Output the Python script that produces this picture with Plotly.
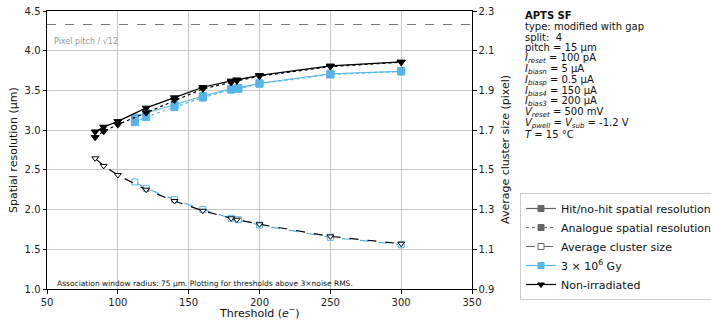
import plotly.graph_objects as go

# ---- data ----
thr_nonirr = [84, 90, 100, 120, 140, 160, 180, 184, 200, 250, 300]
res_hit_nonirr = [2.98, 3.04, 3.11, 3.28, 3.41, 3.54, 3.62, 3.635, 3.69, 3.81, 3.86]
res_ana_nonirr = [2.91, 2.985, 3.07, 3.22, 3.38, 3.52, 3.60, 3.62, 3.68, 3.80, 3.855]
clu_nonirr = [1.558, 1.52, 1.474, 1.40, 1.343, 1.294, 1.256, 1.249, 1.226, 1.165, 1.128]

thr_irr = [112, 120, 140, 160, 180, 185, 200, 250, 300]
res_hit_irr = [3.157, 3.216, 3.32, 3.43, 3.52, 3.53, 3.59, 3.71, 3.74]
res_ana_irr = [3.10, 3.165, 3.29, 3.41, 3.51, 3.52, 3.585, 3.70, 3.74]
clu_irr = [1.439, 1.407, 1.35, 1.30, 1.256, 1.249, 1.222, 1.16, 1.123]

pixel_pitch = 15.0
pitch_line = pixel_pitch / 12 ** 0.5

info_lines = [
    "<b>APTS SF</b>",
    "type: modified with gap",
    "split:  4",
    "pitch = 15 µm",
    "<i>I</i><sub><i>reset</i></sub> = 100 pA",
    "<i>I</i><sub><i>biasn</i></sub> = 5 µA",
    "<i>I</i><sub><i>biasp</i></sub> = 0.5 µA",
    "<i>I</i><sub><i>bias4</i></sub> = 150 µA",
    "<i>I</i><sub><i>bias3</i></sub> = 200 µA",
    "<i>V</i><sub><i>reset</i></sub> = 500 mV",
    "<i>V</i><sub><i>pwell</i></sub> = <i>V</i><sub><i>sub</i></sub> = -1.2 V",
    "<i>T</i> = 15 °C",
]

BLUE = "#56B4E9"
BLACK = "black"
GRAY = "#666666"
FONT = "DejaVu Sans"

# plot-area geometry in pixels (for placing outside texts)
L, R, T, B = 47, 472, 11, 289
W, H = R - L, B - T


def px(xp):
    return (xp - L) / W


def py(yp):
    return 1 - (yp - T) / H


fig = go.Figure()

# pitch line
fig.add_trace(go.Scatter(x=[50, 350], y=[pitch_line, pitch_line], mode="lines",
                         line=dict(color="#777777", width=1, dash="dash"),
                         showlegend=False, hoverinfo="skip"))


def add_series(x, y, color, symbol, dash, filled, yaxis="y", size=7):
    fig.add_trace(go.Scatter(
        x=x, y=y, mode="lines+markers", yaxis=yaxis,
        line=dict(color=color, width=1.2, dash=dash),
        marker=dict(symbol=symbol, size=size,
                    color=color if filled else "white",
                    line=dict(color=color, width=1)),
        showlegend=False))


# irradiated
add_series(thr_irr, res_ana_irr, BLUE, "square", "dot", True)
add_series(thr_irr, res_hit_irr, BLUE, "square", "solid", True)
add_series(thr_irr, clu_irr, BLUE, "square", "dash", False, "y2", 6)
# non-irradiated
add_series(thr_nonirr, res_ana_nonirr, BLACK, "triangle-down", "dot", True)
add_series(thr_nonirr, res_hit_nonirr, BLACK, "triangle-down", "solid", True)
add_series(thr_nonirr, clu_nonirr, BLACK, "triangle-down", "dash", False, "y2", 6)

# legend entries
leg = [
    ("Hit/no-hit spatial resolution", GRAY, "square", "solid", True),
    ("Analogue spatial resolution", GRAY, "square", "dot", True),
    ("Average cluster size", GRAY, "square", "dash", False),
    ("3 × 10<sup>6</sup> Gy", BLUE, "square", "solid", True),
    ("Non-irradiated", BLACK, "triangle-down", "solid", True),
]
for name, c, sym, dash, filled in leg:
    fig.add_trace(go.Scatter(
        x=[None], y=[None], mode="lines+markers", name=name,
        line=dict(color=c, width=1.2, dash=dash),
        marker=dict(symbol=sym, size=6, color=c if filled else "white",
                    line=dict(color=c, width=1))))

annotations = []
y0, dy = 15.5, 10.8
for i, t in enumerate(info_lines):
    ypix = y0 + i * dy
    annotations.append(dict(
        x=px(523), y=py(ypix), xref="paper", yref="paper",
        xanchor="left", yanchor="middle", text=t, showarrow=False,
        font=dict(family=FONT, size=10, color="#111111")))

annotations.append(dict(x=px(52), y=py(42), xref="paper", yref="paper",
                        xanchor="left", yanchor="middle",
                        text="Pixel pitch / √12",
                        showarrow=False, font=dict(family=FONT, size=8, color="#999999")))
annotations.append(dict(x=px(55), y=py(283.5), xref="paper", yref="paper",
                        xanchor="left", yanchor="middle",
                        text="Association window radius: 75 µm. Plotting for thresholds above 3×noise RMS.",
                        showarrow=False, font=dict(family=FONT, size=7.5, color="#111111")))
# axis titles
annotations.append(dict(x=px(259.5), y=py(312), xref="paper", yref="paper",
                        xanchor="center", yanchor="middle",
                        text="Threshold (<i>e</i><sup>−</sup>)",
                        showarrow=False, font=dict(family=FONT, size=11, color="#111111")))
annotations.append(dict(x=px(13), y=py(150), xref="paper", yref="paper",
                        xanchor="center", yanchor="middle", textangle=-90,
                        text="Spatial resolution (µm)",
                        showarrow=False, font=dict(family=FONT, size=11, color="#111111")))
annotations.append(dict(x=px(505), y=py(150), xref="paper", yref="paper",
                        xanchor="center", yanchor="middle", textangle=-90,
                        text="Average cluster size (pixel)",
                        showarrow=False, font=dict(family=FONT, size=11, color="#111111")))

axis_common = dict(showline=True, linecolor="black", linewidth=1,
                   ticks="outside", ticklen=3.5, tickcolor="black",
                   tickfont=dict(family=FONT, size=10, color="#222222"),
                   zeroline=False)

fig.update_layout(
    width=711, height=322,
    margin=dict(l=L, r=711 - R, t=T, b=322 - B, autoexpand=False),
    paper_bgcolor="white", plot_bgcolor="white",
    font=dict(family=FONT, size=10, color="black"),
    xaxis=dict(range=[50, 350], tickvals=[50, 100, 150, 200, 250, 300, 350],
               showgrid=True, gridcolor="#c8c8c8", gridwidth=1,
               mirror=True, **axis_common),
    yaxis=dict(range=[1.0, 4.5], tickvals=[1.0, 1.5, 2.0, 2.5, 3.0, 3.5, 4.0, 4.5],
               tickformat=".1f", showgrid=True, gridcolor="#c8c8c8", gridwidth=1,
               **axis_common),
    yaxis2=dict(range=[0.9, 2.3], tickvals=[0.9, 1.1, 1.3, 1.5, 1.7, 1.9, 2.1, 2.3],
                tickformat=".1f", overlaying="y", side="right", showgrid=False,
                **axis_common),
    legend=dict(x=px(520), y=py(193), xanchor="left", yanchor="top",
                bordercolor="#cccccc", borderwidth=1, bgcolor="white",
                font=dict(family=FONT, size=11, color="#111111"),
                tracegroupgap=0, itemsizing="trace"),
    annotations=annotations,
    showlegend=True,
)

fig.write_html("out.html", config={"displayModeBar": False},
               post_script="document.body.style.margin='0px';document.body.style.overflow='hidden';")
